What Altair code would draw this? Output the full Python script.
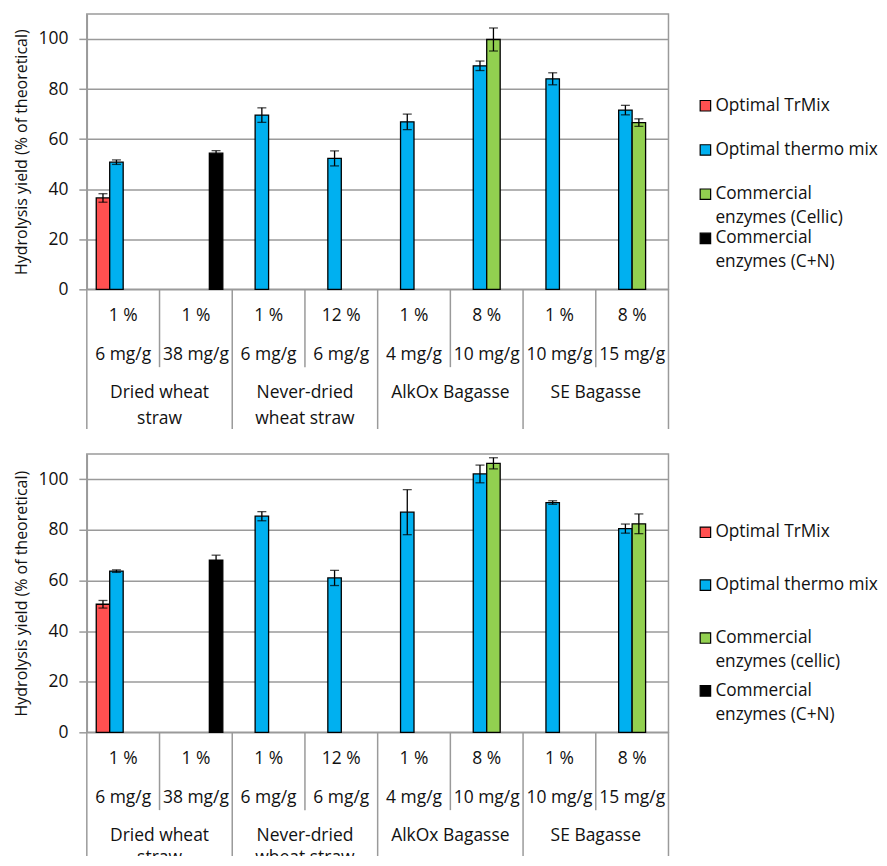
import altair as alt
import pandas as pd

# ---------------- data ----------------
cat_ids = ["C1", "C2", "C3", "C4", "C5", "C6", "C7", "C8"]
solids = ["1 %", "1 %", "1 %", "12 %", "1 %", "8 %", "1 %", "8 %"]
doses = ["6 mg/g", "38 mg/g", "6 mg/g", "6 mg/g", "4 mg/g", "10 mg/g", "10 mg/g", "15 mg/g"]
group_line1 = ["Dried wheat", "Never-dried", "AlkOx Bagasse", "SE Bagasse"]
group_line2 = ["straw", "wheat straw", "", ""]

series_keys = ["TrMix", "thermo", "Cellic", "CN"]
series_colors = ["#FF5050", "#00B0F0", "#92D050", "#000000"]
legend_top_line1 = ["Optimal TrMix", "Optimal thermo mix", "Commercial", "Commercial"]
legend_top_line2 = ["", "", "enzymes (Cellic)", "enzymes (C+N)"]
legend_bot_line1 = ["Optimal TrMix", "Optimal thermo mix", "Commercial", "Commercial"]
legend_bot_line2 = ["", "", "enzymes (cellic)", "enzymes (C+N)"]

# top panel values / errors (None = no bar)
top_trmix = [36.5, None, None, None, None, None, None, None]
top_trmix_err = [1.7, None, None, None, None, None, None, None]
top_thermo = [50.8, None, 69.6, 52.3, 66.9, 89.3, 84.1, 71.6]
top_thermo_err = [0.9, None, 2.9, 3.0, 3.1, 1.9, 2.4, 1.9]
top_cellic = [None, None, None, None, None, 99.8, None, 66.6]
top_cellic_err = [None, None, None, None, None, 4.6, None, 1.5]
top_cn = [None, 54.4, None, None, None, None, None, None]
top_cn_err = [None, 1.0, None, None, None, None, None, None]

# bottom panel values / errors
bot_trmix = [50.6, None, None, None, None, None, None, None]
bot_trmix_err = [1.5, None, None, None, None, None, None, None]
bot_thermo = [63.7, None, 85.4, 61.0, 87.0, 102.1, 90.8, 80.5]
bot_thermo_err = [0.5, None, 1.8, 3.0, 8.9, 3.5, 0.7, 1.8]
bot_cellic = [None, None, None, None, None, 106.3, None, 82.4]
bot_cellic_err = [None, None, None, None, None, 2.2, None, 3.9]
bot_cn = [None, 68.0, None, None, None, None, None, None]
bot_cn_err = [None, 2.0, None, None, None, None, None, None]

y_ticks = [0, 20, 40, 60, 80, 100]
Y_TITLE = "Hydrolysis yield (% of theoretical)"

FONT = "Open Sans"
FS = 17.5
LFS = 17.3
GRAY = "#9a9a9a"
W = 583


def long_df(vals, errs):
    rows = []
    for key, v_list, e_list in zip(series_keys, vals, errs):
        for cat, v, e in zip(cat_ids, v_list, e_list):
            if v is None:
                continue
            rows.append({"cat": cat, "series": key, "value": v,
                         "lo": v - e, "hi": v + e})
    return pd.DataFrame(rows)


top_df = long_df([top_trmix, top_thermo, top_cellic, top_cn],
                 [top_trmix_err, top_thermo_err, top_cellic_err, top_cn_err])
bot_df = long_df([bot_trmix, bot_thermo, bot_cellic, bot_cn],
                 [bot_trmix_err, bot_thermo_err, bot_cellic_err, bot_cn_err])

x_scale = alt.Scale(domain=cat_ids, paddingInner=0, paddingOuter=0)
off_scale = alt.Scale(domain=series_keys, paddingInner=0, paddingOuter=0.7)
color_scale = alt.Scale(domain=series_keys, range=series_colors)
y_scale = alt.Scale(domain=[0, 110], nice=False, zero=True)

label_df = pd.DataFrame({"cat": cat_ids, "solids": solids, "doses": doses})
group_df = pd.DataFrame({"cat": cat_ids[0::2], "l1": group_line1, "l2": group_line2})
sep_long = pd.DataFrame({"cat": cat_ids[0::2]})
sep_short = pd.DataFrame({"cat": cat_ids[1::2]})
sep_end = pd.DataFrame({"cat": cat_ids[-1:]})


def plot_layers(df):
    xenc = alt.X("cat:N", scale=x_scale, axis=None)
    xoff = alt.XOffset("series:N", scale=off_scale)
    yaxis = alt.Axis(values=y_ticks, title=Y_TITLE, grid=True)
    bars = alt.Chart(df).mark_bar(stroke="black", strokeWidth=1.3).encode(
        x=xenc, xOffset=xoff,
        y=alt.Y("value:Q", scale=y_scale, axis=yaxis, title=Y_TITLE),
        color=alt.Color("series:N", scale=color_scale, legend=None),
    )
    err = alt.Chart(df).mark_rule(color="black", strokeWidth=1.3).encode(
        x=xenc, xOffset=xoff,
        y=alt.Y("lo:Q", scale=y_scale, title=Y_TITLE), y2="hi:Q")
    cap_lo = alt.Chart(df).mark_tick(color="black", thickness=1.3, size=9,
                                     orient="horizontal").encode(
        x=xenc, xOffset=xoff, y=alt.Y("lo:Q", scale=y_scale, title=Y_TITLE))
    cap_hi = alt.Chart(df).mark_tick(color="black", thickness=1.3, size=9,
                                     orient="horizontal").encode(
        x=xenc, xOffset=xoff, y=alt.Y("hi:Q", scale=y_scale, title=Y_TITLE))
    return [bars, err, cap_lo, cap_hi]


def table_layers(top, long_len, short_len, rows, clip=False):
    def sep(d, length, bp):
        return alt.Chart(d).mark_rule(color=GRAY, strokeWidth=1.5).encode(
            x=alt.X("cat:N", scale=x_scale, axis=None, bandPosition=bp),
            y=alt.value(top), y2=alt.value(top + length))

    seps = [sep(sep_long, long_len, 0), sep(sep_short, short_len, 0),
            sep(sep_end, long_len, 1)]

    def txt(d, field, dy, bp=0.5):
        return alt.Chart(d).mark_text(font=FONT, fontSize=FS, color="#111",
                                      baseline="middle", align="center",
                                      clip=clip).encode(
            x=alt.X("cat:N", scale=x_scale, axis=None, bandPosition=bp),
            y=alt.value(top + dy), text=f"{field}:N")

    texts = [txt(label_df, "solids", rows[0]), txt(label_df, "doses", rows[1]),
             txt(group_df, "l1", rows[2], 1), txt(group_df, "l2", rows[3], 1)]
    return seps + texts


def legend_panel(line1, line2, H, first, last):
    d = pd.DataFrame({"series": series_keys, "l1": line1, "l2": line2})
    ly = alt.Y("series:N", scale=alt.Scale(type="point", domain=series_keys,
                                           range=[first, last], padding=0),
               axis=None)
    sq = alt.Chart(d).mark_square(size=110, stroke="black", strokeWidth=1.2,
                                  opacity=1).encode(
        x=alt.value(6), y=ly,
        color=alt.Color("series:N", scale=color_scale, legend=None))
    t1 = alt.Chart(d).mark_text(font=FONT, fontSize=LFS, color="#111",
                                align="left", baseline="middle").encode(
        x=alt.value(16), y=ly, text="l1:N")
    t2 = alt.Chart(d).mark_text(font=FONT, fontSize=LFS, color="#111",
                                align="left", baseline="middle", dy=24).encode(
        x=alt.value(16), y=ly, text="l2:N")
    return alt.layer(sq, t1, t2).properties(
        width=120, height=H, view=alt.ViewBackground(stroke="transparent"))


# top row: plot and its category table in one layered view
H1 = 276
top_main = alt.layer(*plot_layers(top_df),
                     *table_layers(H1, 140, 78, [27, 66, 104, 130])).properties(
    width=W, height=H1)
top_row = alt.hconcat(top_main,
                      legend_panel(legend_top_line1, legend_top_line2, H1, 92, 225),
                      spacing=26)

# bottom row: plot, then a table view whose last text line is cut at the edge
H2 = 279
TH = 124
bot_plot = alt.layer(*plot_layers(bot_df)).properties(width=W, height=H2)
bot_table = alt.layer(*table_layers(0, TH, 78, [27, 66, 104, 126], clip=True)).properties(
    width=W, height=TH, view=alt.ViewBackground(stroke="transparent"))
bot_left = alt.vconcat(bot_plot, bot_table, spacing=0, bounds="flush")
bot_row = alt.hconcat(bot_left,
                      legend_panel(legend_bot_line1, legend_bot_line2, H2, 78.5, 237.5),
                      spacing=26)

chart = alt.vconcat(top_row, bot_row, spacing=22).properties(
    padding={"left": 5, "top": 4, "right": 0, "bottom": 0},
    background="white",
).configure_view(stroke=GRAY, strokeWidth=1.5).configure_axisY(
    gridColor=GRAY, gridWidth=1.5, domainColor=GRAY, domainWidth=1.5,
    tickColor=GRAY, tickWidth=1.5, tickSize=8, labelPadding=11,
    labelFont=FONT, labelFontSize=FS, labelColor="#111",
    titleFont=FONT, titleFontSize=16, titleFontWeight="normal",
    titleColor="#111", titlePadding=8,
)

chart.save("out.html", embed_options={"renderer": "svg", "actions": False})
